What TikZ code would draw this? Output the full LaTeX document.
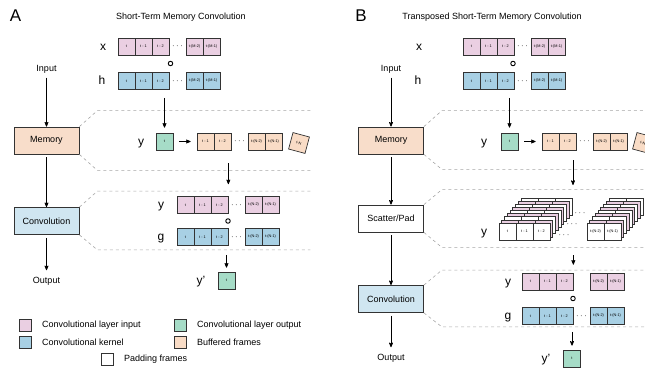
\documentclass[tikz,border=0pt]{standalone}
\usepackage{fontspec}
\setmainfont{Liberation Sans}
\usetikzlibrary{shapes,arrows,positioning}
\definecolor{inpink}{HTML}{EACFE2}
\definecolor{kblue}{HTML}{A8D0E4}
\definecolor{outgreen}{HTML}{A6DCC7}
\definecolor{bufpeach}{HTML}{F9DCC6}
\definecolor{memfill}{HTML}{F8DDCA}
\definecolor{convfill}{HTML}{D0E6F1}
\tikzstyle{invis} = [draw=none, inner sep=0pt, font=\fontsize{9}{9}\selectfont]
\tikzstyle{txt} = [font=\fontsize{9}{10}\selectfont]
\tikzstyle{var} = [font=\fontsize{12}{12}\selectfont, anchor=base, inner sep=0pt]
\tikzstyle{panel} = [font=\fontsize{17}{17}\selectfont]
\tikzstyle{block} = [draw=black!80, line width=0.8pt, minimum width=65pt, minimum height=27pt, font=\fontsize{9}{10}\selectfont]
\tikzstyle{cell} = [draw=black!80, line width=0.7pt, minimum size=17pt, inner sep=0pt, font=\fontsize{3.8}{4}\selectfont]
\tikzstyle{inp} = [cell, fill=inpink]
\tikzstyle{kern} = [cell, fill=kblue]
\tikzstyle{outp} = [cell, fill=outgreen]
\tikzstyle{buf} = [cell, fill=bufpeach]
\tikzstyle{pad} = [cell, fill=white]
\tikzstyle{key} = [draw=black!80, line width=0.7pt, minimum size=12pt, inner sep=0pt]
\tikzstyle{hadamard} = [draw, circle, line width=0.9pt, minimum size=4.5pt, inner sep=0pt]
\tikzstyle{zoomline} = [draw=black!35, dashed, line width=0.6pt]

\begin{document}
\begin{tikzpicture}[>=stealth', line width=0.7pt, node distance=17pt, x=1pt, y=-1pt]
\clip (0,0) rectangle (645,372);

% ---------------- panel A
\node[panel] (lblA) at (15.5,16) {A};
\node[txt] (titleA) at (181,17) {Short-Term Memory Convolution};

\node[var] (xlA) at (103,50) {x};
\node[inp] (xA1) at (126.5,46.5) {t};
\node[inp] (xA2) [right of = xA1] {t - 1};
\node[inp] (xA3) [right of = xA2] {t - 2};
\node[invis] (xAd) [right of = xA3] {$\cdots$};
\node[inp] (xA4) [right of = xAd] {t-(M-2)};
\node[inp] (xA5) [right of = xA4] {t-(M-1)};
\node[hadamard] (oA1) at (170.5,63.5) {};
\node[var] (hlA) at (102,84.5) {h};
\node[kern] (hA1) at (126.5,81) {t};
\node[kern] (hA2) [right of = hA1] {t - 1};
\node[kern] (hA3) [right of = hA2] {t - 2};
\node[invis] (hAd) [right of = hA3] {$\cdots$};
\node[kern] (hA4) [right of = hAd] {t-(M-2)};
\node[kern] (hA5) [right of = hA4] {t-(M-1)};

\node[txt] (inA) at (46.5,69) {Input};
\node[block, fill=memfill] (memA) at (46.5,140.5) {Memory};
\node[block, fill=convfill] (convA) at (46.5,221) {Convolution};
\node[txt] (outA) at (46.5,281) {Output};

% memory
\node[var] (ylA) at (141,145) {y};
\node[outp] (ytA) at (164.5,141.5) {t};
\node[buf] (bA1) at (205.5,141.5) {t - 1};
\node[buf] (bA2) [right of = bA1] {t - 2};
\node[invis] (bAd) [right of = bA2] {$\cdots$};
\node[buf] (bA3) [right of = bAd] {t-(N-2)};
\node[buf] (bA4) [right of = bA3] {t-(N-1)};
\node[buf, rotate=-15] (tNA) at (299,143) {t-N};

% convolution
\node[var] (cylA) at (161,208.5) {y};
\node[inp] (cyA1) at (185.5,205) {t};
\node[inp] (cyA2) [right of = cyA1] {t - 1};
\node[inp] (cyA3) [right of = cyA2] {t - 2};
\node[invis] (cyAd) [right of = cyA3] {$\cdots$};
\node[inp] (cyA4) [right of = cyAd] {t-(N-2)};
\node[inp] (cyA5) [right of = cyA4] {t-(N-1)};
\node[hadamard] (oA2) at (228,221) {};
\node[var] (glA) at (161,240.5) {g};
\node[kern] (gA1) at (185.5,237) {t};
\node[kern] (gA2) [right of = gA1] {t - 1};
\node[kern] (gA3) [right of = gA2] {t - 2};
\node[invis] (gAd) [right of = gA3] {$\cdots$};
\node[kern] (gA4) [right of = gAd] {t-(N-2)};
\node[kern] (gA5) [right of = gA4] {t-(N-1)};
\node[var] (yplA) at (201,284) {y'};
\node[outp] (ypA) at (226.5,280.5) {t};

\draw[zoomline] (memA.north east) -- ++(18,-16) -- ++(213,0);
\draw[zoomline] (memA.south east) -- ++(18,16) -- ++(213,0);
\draw[zoomline] (convA.north east) -- ++(18,-16) -- ++(213,0);
\draw[zoomline] (convA.south east) -- ++(18,15) -- ++(213,0);

\path[->]
(inA) edge [shorten <=1pt] (memA)
(memA) edge [shorten <=3pt] (convA)
(convA) edge [shorten <=3pt, shorten >=3pt] (outA)
(hA3.south -| ytA.north) edge [shorten <=8pt, shorten >=5pt] (ytA.north)
(ytA) edge [shorten <=6pt, shorten >=6pt] (bA1)
(cyA3.north east |- bA2.south) edge [shorten <=13pt, shorten >=12pt] (cyA3.north east)
(ypA.north |- gA3.south) edge [shorten <=9pt, shorten >=4pt] (ypA.north);

% legend
\node[key, fill=inpink] (kIn) at (25,325) {};
\node[txt, right=7pt of kIn] (kInT) {Convolutional layer input};
\node[key, fill=kblue] (kKer) at (25,342) {};
\node[txt, right=7pt of kKer] (kKerT) {Convolutional kernel};
\node[key, fill=outgreen] (kOut) at (180,325) {};
\node[txt, right=7pt of kOut] (kOutT) {Convolutional layer output};
\node[key, fill=bufpeach] (kBuf) at (180,342) {};
\node[txt, right=7pt of kBuf] (kBufT) {Buffered frames};
\node[key, fill=white] (kPad) at (107,359) {};
\node[txt, right=7pt of kPad] (kPadT) {Padding frames};

% ---------------- panel B
\node[panel] (lblB) at (361,16) {B};
\node[txt] (titleB) at (492,17) {Transposed Short-Term Memory Convolution};

\node[var] (xlB) at (419,50) {x};
\node[inp] (xB1) at (471.5,46.5) {t};
\node[inp] (xB2) [right of = xB1] {t - 1};
\node[inp] (xB3) [right of = xB2] {t - 2};
\node[invis] (xBd) [right of = xB3] {$\cdots$};
\node[inp] (xB4) [right of = xBd] {t-(M-2)};
\node[inp] (xB5) [right of = xB4] {t-(M-1)};
\node[hadamard] (oB1) at (513,63.5) {};
\node[var] (hlB) at (418,84.5) {h};
\node[kern] (hB1) at (471.5,81) {t};
\node[kern] (hB2) [right of = hB1] {t - 1};
\node[kern] (hB3) [right of = hB2] {t - 2};
\node[invis] (hBd) [right of = hB3] {$\cdots$};
\node[kern] (hB4) [right of = hBd] {t-(M-2)};
\node[kern] (hB5) [right of = hB4] {t-(M-1)};

\node[txt] (inB) at (391,69) {Input};
\node[block, fill=memfill] (memB) at (391,140.5) {Memory};
\node[block, fill=white] (scatB) at (391,218.5) {Scatter/Pad};
\node[block, fill=convfill] (convB) at (391,299) {Convolution};
\node[txt] (outB) at (391,358) {Output};

% memory
\node[var] (ylB) at (484,145) {y};
\node[outp] (ytB) at (509.5,141.5) {t};
\node[buf] (bB1) at (550.5,141.5) {t - 1};
\node[buf] (bB2) [right of = bB1] {t - 2};
\node[invis] (bBd) [right of = bB2] {$\cdots$};
\node[buf] (bB3) [right of = bBd] {t-(N-2)};
\node[buf] (bB4) [right of = bB3] {t-(N-1)};
\node[buf, rotate=-15] (tNB) at (643,143) {t-N};

% scatter / pad
\foreach \k/\c in {8/white,7/inpink,6/white,5/inpink,4/white,3/inpink,2/white,1/inpink}
  \foreach \x in {507.5,524.5,541.5,595.5,612.5}
    \node[cell, fill=\c] at (\x+2.75*\k,231.5-3.1*\k) {};
\node[var] (slB) at (484,235) {y};
\node[pad] (sB1) at (507.5,231.5) {t};
\node[pad] (sB2) [right of = sB1] {t - 1};
\node[pad] (sB3) [right of = sB2] {t - 2};
\node[pad] (sB4) at (595.5,231.5) {t-(N-2)};
\node[pad] (sB5) [right of = sB4] {t-(N-1)};
\node[invis] (sBd1) at (564,235) {$\cdots$};
\node[invis] (sBd2) at (572,224) {$\cdots$};
\node[invis] (sBd3) at (580,213) {$\cdots$};
\coordinate (stkB) at (573,198);

% convolution
\node[var] (cylB) at (508,285) {y};
\node[inp] (cyB1) at (530.5,281.5) {t};
\node[inp] (cyB2) [right of = cyB1] {t - 1};
\node[inp] (cyB3) [right of = cyB2] {t - 2};
\node[inp] (cyB4) at (598.5,281.5) {t-(N-2)};
\node[inp] (cyB5) [right of = cyB4] {t-(N-1)};
\node[hadamard] (oB2) at (573,298.5) {};
\node[var] (glB) at (508,319.5) {g};
\node[kern] (gB1) at (530.5,316) {t};
\node[kern] (gB2) [right of = gB1] {t - 1};
\node[kern] (gB3) [right of = gB2] {t - 2};
\node[invis] (gBd) [right of = gB3] {$\cdots$};
\node[kern] (gB4) [right of = gBd] {t-(N-2)};
\node[kern] (gB5) [right of = gB4] {t-(N-1)};
\node[var] (yplB) at (546,362) {y'};
\node[outp] (ypB) at (572,358.5) {t};

\draw[zoomline] (memB.north east) -- ++(18,-16) -- ++(230,0);
\draw[zoomline] (memB.south east) -- ++(18,15) -- ++(230,0);
\draw[zoomline] (scatB.north east) -- ++(18,-15) -- ++(230,0);
\draw[zoomline] (scatB.south east) -- ++(18,15) -- ++(230,0);
\draw[zoomline] (convB.north east) -- ++(18,-15) -- ++(230,0);
\draw[zoomline] (convB.south east) -- ++(18,14) -- ++(230,0);

\path[->]
(inB) edge [shorten <=1pt] (memB)
(memB) edge [shorten <=3pt] (scatB)
(scatB) edge [shorten <=3pt] (convB)
(convB) edge [shorten <=3pt, shorten >=3pt] (outB)
(hB3.south -| ytB.north) edge [shorten <=8pt, shorten >=5pt] (ytB.north)
(ytB) edge [shorten <=6pt, shorten >=6pt] (bB1)
(stkB |- bB2.south) edge [shorten <=10pt, shorten >=13pt] (stkB)
(cyB3.north east |- sB3.south) edge [shorten <=15pt, shorten >=8pt] (cyB3.north east)
(ypB.north |- gB3.south) edge [shorten <=7pt, shorten >=4pt] (ypB.north);

\end{tikzpicture}
\end{document}
